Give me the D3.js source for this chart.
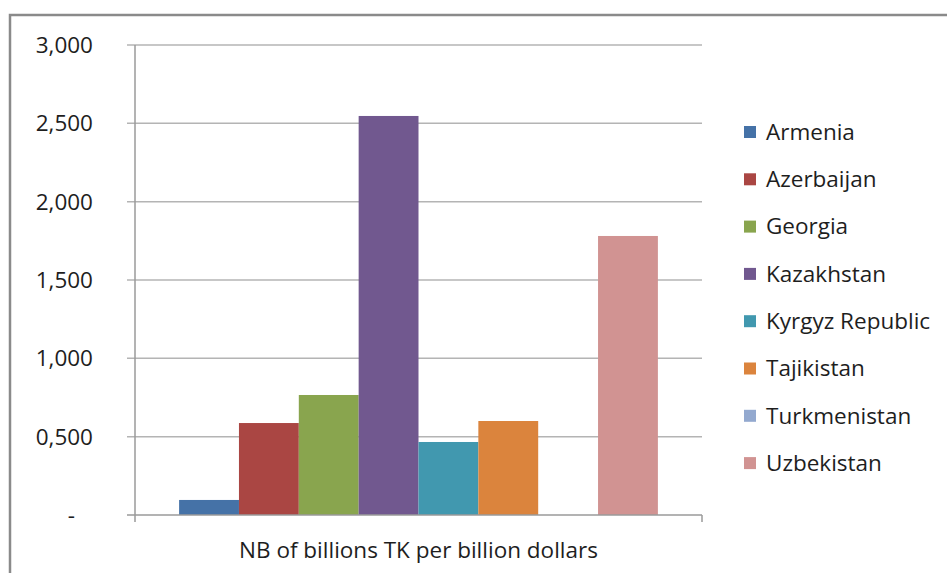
<!DOCTYPE html>
<html>
<head>
<meta charset="utf-8">
<script src="https://cdn.jsdelivr.net/npm/d3@7"></script>
<style>
  body { margin: 0; background: #fff; }
  text { font-family: 'Open Sans', Lato, sans-serif; fill: #1e1e1e; }
</style>
</head>
<body>
<div></div>
<script>
const countries = ['Armenia', 'Azerbaijan', 'Georgia', 'Kazakhstan', 'Kyrgyz Republic', 'Tajikistan', 'Turkmenistan', 'Uzbekistan'];
const values = [96, 587, 766, 2547, 466, 600, 0, 1781];
const colors = ['#4572A7', '#AA4643', '#89A54E', '#71588F', '#4198AF', '#DB843D', '#93A9CF', '#D19392'];
const tickValues = [0, 500, 1000, 1500, 2000, 2500, 3000];
const tickLabels = ['-', '0,500', '1,000', '1,500', '2,000', '2,500', '3,000'];
const categoryLabel = 'NB of billions TK per billion dollars';

const w = 947;
const h = 573;
const plotLeft = 135;
const plotRight = 702;
const plotTop = 45;
const plotBottom = 515;
const fontSize = '22.5px';

const svg = d3
  .select('body')
  .select('div')
  .append('svg')
  .attr('width', w)
  .attr('height', h);

// outer frame
svg
  .append('rect')
  .attr('x', 10)
  .attr('y', 15)
  .attr('width', w + 10)
  .attr('height', h + 10)
  .style('fill', 'none')
  .style('stroke', '#8a8a8a')
  .style('stroke-width', 2.5);

const yScale = d3.scaleLinear().domain([0, 3000]).range([plotBottom, plotTop]);

// one category, so the series share a single band
const xScale = d3
  .scaleBand()
  .domain([categoryLabel])
  .range([plotLeft, plotRight])
  .paddingInner(0)
  .paddingOuter(0);

const groupScale = d3
  .scaleBand()
  .domain(countries)
  .range([0, xScale.bandwidth()])
  .paddingOuter(0.737)
  .paddingInner(0);

// gridlines + left ticks
svg
  .append('g')
  .selectAll('line')
  .data(tickValues.filter((d) => d > 0))
  .enter()
  .append('line')
  .attr('x1', plotLeft - 8)
  .attr('x2', plotRight)
  .attr('y1', (d) => yScale(d))
  .attr('y2', (d) => yScale(d))
  .style('stroke', '#b4b4b4')
  .style('stroke-width', 1.5);

// bars
svg
  .append('g')
  .selectAll('rect')
  .data(countries)
  .enter()
  .append('rect')
  .attr('x', (d) => xScale(categoryLabel) + groupScale(d))
  .attr('width', groupScale.bandwidth())
  .attr('y', (d, i) => yScale(values[i]))
  .attr('height', (d, i) => plotBottom - yScale(values[i]))
  .style('fill', (d, i) => colors[i]);

// axes lines
const axisColor = '#9a9a9a';
svg
  .append('line')
  .attr('x1', plotLeft)
  .attr('x2', plotLeft)
  .attr('y1', plotTop)
  .attr('y2', plotBottom + 7)
  .style('stroke', axisColor)
  .style('stroke-width', 1.5);
svg
  .append('line')
  .attr('x1', plotLeft - 8)
  .attr('x2', plotRight)
  .attr('y1', plotBottom)
  .attr('y2', plotBottom)
  .style('stroke', axisColor)
  .style('stroke-width', 1.5);
svg
  .append('line')
  .attr('x1', plotRight)
  .attr('x2', plotRight)
  .attr('y1', plotBottom)
  .attr('y2', plotBottom + 7)
  .style('stroke', axisColor)
  .style('stroke-width', 1.5);

// y tick labels
svg
  .append('g')
  .selectAll('text')
  .data(tickValues)
  .enter()
  .append('text')
  .attr('x', (d) => (d === 0 ? 75 : 93))
  .attr('y', (d) => yScale(d))
  .attr('dy', '0.35em')
  .attr('text-anchor', 'end')
  .style('font-size', fontSize)
  .text((d, i) => tickLabels[i]);

// category label
svg
  .append('text')
  .attr('x', xScale(categoryLabel) + xScale.bandwidth() / 2)
  .attr('y', 550)
  .attr('dy', '0.35em')
  .attr('text-anchor', 'middle')
  .style('font-size', fontSize)
  .text(categoryLabel);

// legend
const legend = svg.append('g').attr('transform', 'translate(744, 132)');
const row = legend
  .selectAll('g')
  .data(countries)
  .enter()
  .append('g')
  .attr('transform', (d, i) => `translate(0, ${i * 47.3})`);
row
  .append('rect')
  .attr('x', 0)
  .attr('y', -6)
  .attr('width', 12)
  .attr('height', 12)
  .style('fill', (d, i) => colors[i]);
row
  .append('text')
  .attr('x', 22)
  .attr('y', 0)
  .attr('dy', '0.35em')
  .style('font-size', fontSize)
  .text((d) => d);
</script>
</body>
</html>
